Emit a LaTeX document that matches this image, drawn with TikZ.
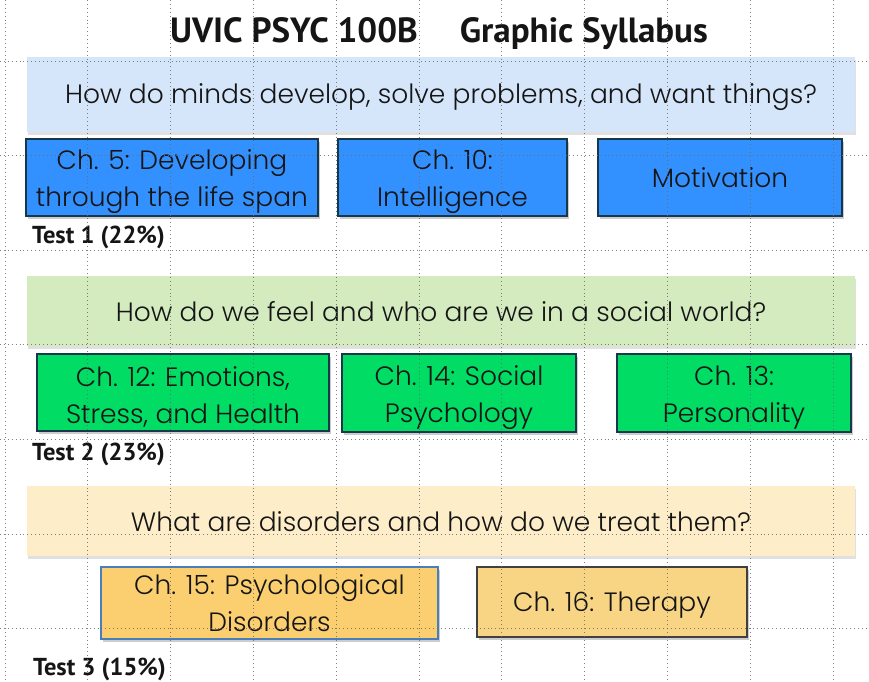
\documentclass[tikz,border=0pt]{standalone}
\usepackage{fontspec}
\setmainfont{Poppins}[UprightFont={* Light}]
\newfontfamily\titlefont{PT Sans}
\usetikzlibrary{shadows}
\definecolor{bandblue}{HTML}{D6E6FA}
\definecolor{bandgreen}{HTML}{D4EBC0}
\definecolor{bandorange}{HTML}{FEEDC9}
\definecolor{boxblue}{HTML}{3391FF}
\definecolor{boxgreen}{HTML}{00DC64}
\definecolor{boxorangeA}{HTML}{FBCF70}
\definecolor{boxorangeB}{HTML}{F8D585}
\definecolor{navyedge}{HTML}{17374A}
\definecolor{blueedge}{HTML}{4A7EBB}
\definecolor{grayedge}{HTML}{404040}
\definecolor{gridgray}{HTML}{6A6A6A}
\definecolor{ink}{HTML}{151515}
\newcommand{\liftline}[1]{\rule{0pt}{#1}}
\tikzset{
  band/.style={fill=#1, inner sep=0pt, minimum width=828pt, text=ink,
    font=\fontsize{26.5}{30}\selectfont,
    drop shadow={shadow xshift=1pt, shadow yshift=-3pt, opacity=0.12, fill=black}},
  chbox/.style={fill=#1, draw=navyedge, line width=2pt, inner sep=0pt, align=center, text=ink,
    font=\fontsize{26.5}{37}\selectfont,
    drop shadow={shadow xshift=1.5pt, shadow yshift=-2.5pt, opacity=0.2, fill=black}},
  lower/.style={execute at begin node={\rule{0pt}{#1}}},
  testlabel/.style={anchor=base west, inner sep=0pt, text=ink, font=\titlefont\bfseries\fontsize{24.5}{28}\selectfont},
  gridline/.style={gridgray, line width=0.9pt, dash pattern=on 0.9pt off 3pt, opacity=0.85}
}
\begin{document}
\begin{tikzpicture}[x=1pt, y=-1pt]
\useasboundingbox (0,0) rectangle (869,681);
\fill[white] (0,0) rectangle (869,681);
% title
\node[anchor=base west, inner sep=0pt, text=ink, font=\titlefont\bfseries\fontsize{35}{40}\selectfont]
  (title) at (170,42) {UVIC PSYC 100B\hspace{42pt}Graphic Syllabus};
% bands
\node[band=bandblue, minimum height=75pt, lower=26pt] (q1) at (441,94.5) {How do minds develop, solve problems, and want things?};
\node[band=bandgreen, minimum height=70pt, lower=22pt] (q2) at (441,311) {How do we feel and who are we in a social world?};
\node[band=bandorange, minimum height=70pt, lower=22pt] (q3) at (441,521) {What are disorders and how do we treat them?};
% row 1
\node[chbox=boxblue, minimum width=292pt, minimum height=77pt] (ch5) at (172,177.5) {\liftline{28pt}Ch. 5: Developing\\through the life span};
\node[chbox=boxblue, minimum width=229pt, minimum height=77pt] (ch10) at (452.5,177.5) {\liftline{28pt}Ch. 10:\\Intelligence};
\node[chbox=boxblue, minimum width=244pt, minimum height=77pt] (mot) at (720,177.5) {Motivation};
\node[testlabel] (t1) at (32,243) {Test 1 (22\%)};
% row 2
\node[chbox=boxgreen, minimum width=292pt, minimum height=77pt] (ch12) at (183,392.5) {\liftline{28pt}Ch. 12: Emotions,\\Stress, and Health};
\node[chbox=boxgreen, minimum width=234pt, minimum height=78pt] (ch14) at (459,393) {\liftline{29pt}Ch. 14: Social\\Psychology};
\node[chbox=boxgreen, minimum width=234pt, minimum height=78pt] (ch13) at (734,393) {\liftline{29pt}Ch. 13:\\Personality};
\node[testlabel] (t2) at (32,460) {Test 2 (23\%)};
% row 3
\node[chbox=boxorangeA, draw=blueedge, minimum width=337pt, minimum height=72pt] (ch15) at (269.5,603) {Ch. 15: Psychological\\Disorders};
\node[chbox=boxorangeB, draw=grayedge, minimum width=270pt, minimum height=70pt, lower=25pt] (ch16) at (612,602) {Ch. 16: Therapy};
\node[testlabel] (t3) at (33,675) {Test 3 (15\%)};
% grid
\foreach \i in {0,...,10} \draw[gridline] ({5+82.8*\i},0) -- ({5+82.8*\i},681);
\foreach \j in {0,...,6} \draw[gridline] (0,{61+94.6*\j}) -- (869,{61+94.6*\j});
\end{tikzpicture}
\end{document}
